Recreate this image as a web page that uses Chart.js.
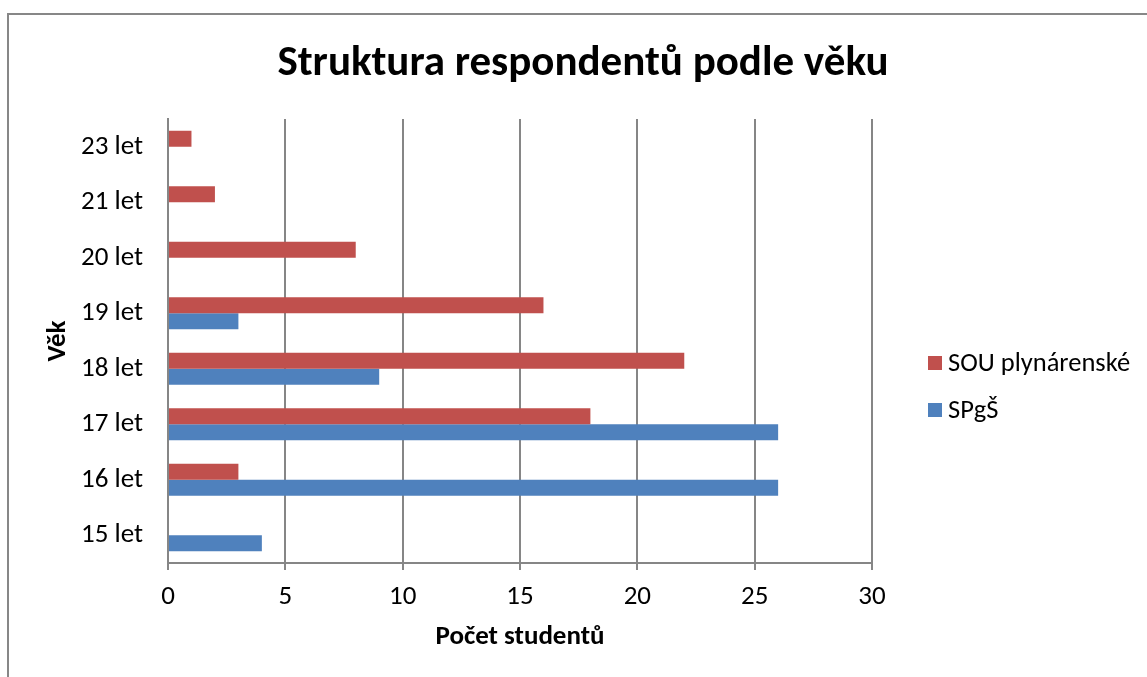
<!DOCTYPE html>
<html>
<head>
<meta charset="utf-8">
<script src="https://cdn.jsdelivr.net/npm/chart.js@4"></script>
<style>
  html, body { margin: 0; padding: 0; background: #fff; }
  #wrap { width: 1147px; height: 677px; }
</style>
</head>
<body>
<div id="wrap"><canvas id="c" width="1147" height="677"></canvas></div>
<script>
const chartTitle = 'Struktura respondentů podle věku';
const categories = ['23 let', '21 let', '20 let', '19 let', '18 let', '17 let', '16 let', '15 let'];
const souValues = [1, 2, 8, 16, 22, 18, 3, 0];
const spgsValues = [0, 0, 0, 3, 9, 26, 26, 4];
const seriesNames = ['SOU plynárenské', 'SPgŠ'];
const seriesColors = ['#C0504D', '#4F81BD'];
const xTitle = 'Počet studentů';
const yTitle = 'Věk';

const FONT = 'Carlito, Lato, "Open Sans", sans-serif';
const GRID = '#868686';

const decor = {
  id: 'decor',
  beforeDraw(chart) {
    const ctx = chart.ctx;
    ctx.save();
    ctx.fillStyle = '#fff';
    ctx.fillRect(0, 0, chart.width, chart.height);
    ctx.strokeStyle = '#878787';
    ctx.lineWidth = 2;
    ctx.beginPath();
    ctx.moveTo(7, 14);
    ctx.lineTo(chart.width, 14);
    ctx.moveTo(8, 13);
    ctx.lineTo(8, chart.height);
    ctx.stroke();
    ctx.restore();
  },
  afterDraw(chart) {
    const ctx = chart.ctx;
    ctx.save();
    ctx.fillStyle = '#000';
    ctx.font = 'bold 43px ' + FONT;
    ctx.textAlign = 'center';
    ctx.textBaseline = 'alphabetic';
    ctx.fillText(chartTitle, 583, 75);
    // legend
    ctx.font = '26.5px ' + FONT;
    ctx.textAlign = 'left';
    ctx.textBaseline = 'middle';
    chart.data.datasets.forEach((ds, i) => {
      const cy = 363 + i * 47;
      ctx.fillStyle = ds.backgroundColor;
      ctx.fillRect(928, cy - 7, 14, 14);
      ctx.fillStyle = '#000';
      ctx.fillText(ds.label, 948, cy + 1);
    });
    ctx.restore();
  }
};

new Chart(document.getElementById('c'), {
  type: 'bar',
  data: {
    labels: categories,
    datasets: [
      { label: seriesNames[0], data: souValues, backgroundColor: seriesColors[0] },
      { label: seriesNames[1], data: spgsValues, backgroundColor: seriesColors[1] }
    ]
  },
  options: {
    indexAxis: 'y',
    responsive: false,
    animation: false,
    devicePixelRatio: 1,
    layout: { padding: { top: 119, right: 275, bottom: 24, left: 42 } },
    categoryPercentage: 0.5766,
    barPercentage: 1,
    plugins: {
      legend: { display: false },
      title: { display: false },
      tooltip: { enabled: false }
    },
    scales: {
      x: {
        min: 0, max: 30,
        ticks: { stepSize: 5, color: '#000', font: { family: FONT, size: 27 }, padding: 11, maxRotation: 0 },
        grid: { color: GRID, lineWidth: 2, drawTicks: true, tickLength: 7, tickColor: GRID },
        border: { display: true, color: GRID, width: 2 },
        title: { display: true, text: xTitle, color: '#000', font: { family: FONT, size: 27, weight: 'bold' }, padding: { top: 0, bottom: 0 } },
        afterFit(s) { s.height = 90; }
      },
      y: {
        ticks: { color: '#000', font: { family: FONT, size: 27 }, padding: 25 },
        grid: { display: false, drawTicks: false },
        border: { display: true, color: GRID, width: 2 },
        title: { display: true, text: yTitle, color: '#000', font: { family: FONT, size: 27, weight: 'bold' }, padding: { top: 0, bottom: 0 } },
        afterFit(s) { s.width = 126; }
      }
    }
  },
  plugins: [decor]
});
</script>
</body>
</html>
